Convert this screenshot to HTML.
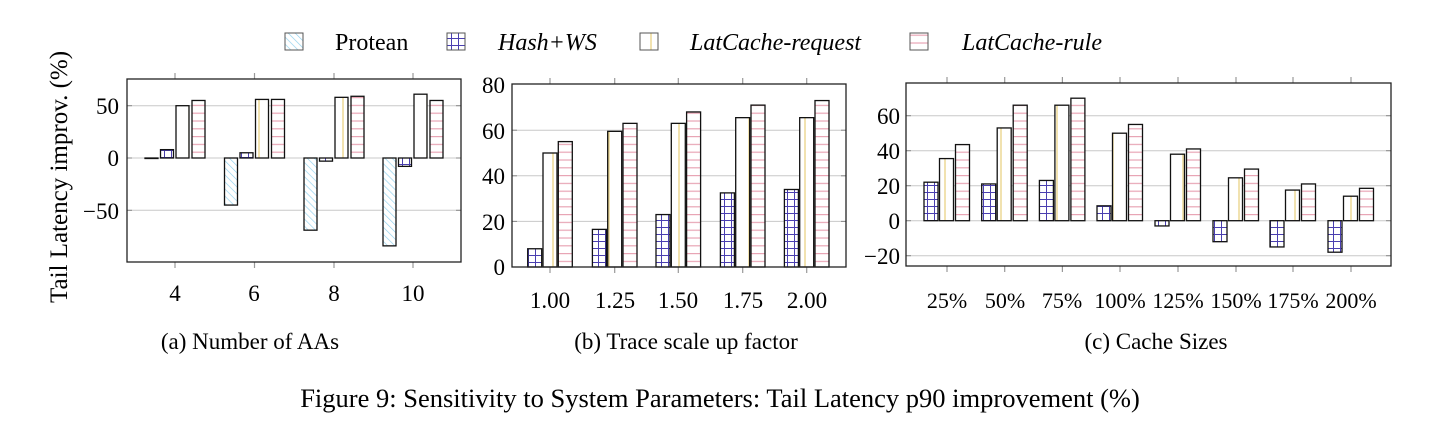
<!DOCTYPE html><html><head><meta charset="utf-8"><style>
body{margin:0;background:#fff;width:1433px;height:424px;overflow:hidden}
text{font-family:"Liberation Serif",serif;fill:#000}
</style></head><body>
<svg id="s" width="1433" height="424" xmlns="http://www.w3.org/2000/svg">
<defs>
<pattern id="pP" patternUnits="userSpaceOnUse" width="5" height="5" patternTransform="rotate(-45)"><rect width="5" height="5" fill="#fff"/><line x1="0" y1="0" x2="0" y2="5" stroke="#8fd0ee" stroke-width="1.3"/></pattern>
<pattern id="pH" patternUnits="userSpaceOnUse" width="7" height="7"><rect width="7" height="7" fill="#fff"/><line x1="3.5" y1="0" x2="3.5" y2="7" stroke="#4a3fb0" stroke-width="1"/><line x1="0" y1="3.5" x2="7" y2="3.5" stroke="#4a3fb0" stroke-width="1"/></pattern>
<pattern id="pL" patternUnits="userSpaceOnUse" width="14" height="7"><rect width="14" height="7" fill="#fff"/><line x1="7" y1="0" x2="7" y2="7" stroke="#e8cf7a" stroke-width="1.2"/></pattern>
<pattern id="pR" patternUnits="userSpaceOnUse" width="7" height="7.8"><rect width="7" height="7.8" fill="#fff"/><line x1="0" y1="4" x2="7" y2="4" stroke="#e8a4b4" stroke-width="1.2"/></pattern>
</defs>
<g id="g"></g>
<rect x="285" y="33" width="18" height="17" fill="url(#pP)" stroke="#555"/>
<text x="335" y="50" font-size="24">Protean</text>
<rect x="447" y="33" width="18" height="17" fill="url(#pH)" stroke="#555"/>
<text x="498" y="50" font-size="24" font-style="italic">Hash+WS</text>
<rect x="640" y="33" width="18" height="17" fill="url(#pL)" stroke="#555"/>
<text x="690" y="50" font-size="24" font-style="italic">LatCache-request</text>
<rect x="910" y="33" width="18" height="17" fill="url(#pR)" stroke="#555"/>
<text x="962" y="50" font-size="24" font-style="italic">LatCache-rule</text>
<text transform="translate(67,177) rotate(-90)" font-size="25" text-anchor="middle">Tail Latency improv. (%)</text>
<g font-size="23" text-anchor="end">
<text x="119" y="114">50</text><text x="119" y="166">0</text><text x="119" y="219">−50</text>
<g text-anchor="middle"><text x="175" y="301">4</text><text x="254" y="301">6</text><text x="334" y="301">8</text><text x="413" y="301">10</text></g>
<text x="505" y="93">80</text><text x="505" y="139">60</text><text x="505" y="184">40</text><text x="505" y="230">20</text><text x="505" y="275">0</text>
<g text-anchor="middle"><text x="550" y="308">1.00</text><text x="615" y="308">1.25</text><text x="678" y="308">1.50</text><text x="743" y="308">1.75</text><text x="807" y="308">2.00</text></g>
<text x="900" y="124">60</text><text x="900" y="159">40</text><text x="900" y="194">20</text><text x="900" y="229">0</text><text x="900" y="264">−20</text>
<g text-anchor="middle" font-size="22"><text x="947" y="308">25%</text><text x="1005" y="308">50%</text><text x="1062" y="308">75%</text><text x="1120" y="308">100%</text><text x="1178" y="308">125%</text><text x="1236" y="308">150%</text><text x="1293" y="308">175%</text><text x="1351" y="308">200%</text></g>
</g>
<g font-size="23" text-anchor="middle">
<text x="250" y="349">(a) Number of AAs</text>
<text x="686" y="349">(b) Trace scale up factor</text>
<text x="1156" y="349">(c) Cache Sizes</text>
<text x="720" y="407" font-size="26.5">Figure 9: Sensitivity to System Parameters: Tail Latency p90 improvement (%)</text>
</g>
</svg>
<script>
var g=document.getElementById('g'),NS='http://www.w3.org/2000/svg';
function el(t,a){var e=document.createElementNS(NS,t);for(var k in a)e.setAttribute(k,a[k]);g.appendChild(e);return e}
function panel(o){
 var L=o.L,R=o.R,T=o.T,B=o.B;
 o.grid.forEach(function(v){var y=o.z-v*o.k;el('line',{x1:L,x2:R,y1:y,y2:y,stroke:'#c8c8c8','stroke-width':1});
  el('line',{x1:L,x2:L+5,y1:y,y2:y,stroke:'#888'});el('line',{x1:R-5,x2:R,y1:y,y2:y,stroke:'#888'});});
 o.xs.forEach(function(x){el('line',{x1:x,x2:x,y1:B,y2:B+6,stroke:'#999','stroke-width':1.2});el('line',{x1:x,x2:x,y1:T-6,y2:T,stroke:'#999','stroke-width':1.2});});
 o.series.forEach(function(s,si){s.d.forEach(function(v,i){var cx=o.xs[i]+o.off[si],w=o.w;
  var y1=o.z-Math.max(v,0)*o.k,y2=o.z-Math.min(v,0)*o.k;
  el('rect',{x:cx-w/2,y:y1,width:w,height:Math.max(y2-y1,0.5),fill:'url(#'+s.p+')',stroke:'#111','stroke-width':1.3});});});
 el('rect',{x:L,y:T,width:R-L,height:B-T,fill:'none',stroke:'#222','stroke-width':1.3});
}
panel({L:127,R:461,T:79,B:262,z:158,k:1.046,grid:[50,0,-50],xs:[175,254.5,334,413],off:[-23.5,-8,7.5,23.5],w:13,
 series:[{p:'pP',d:[0,-45,-69,-84]},{p:'pH',d:[8,5,-3,-8]},{p:'pL',d:[50,56,58,61]},{p:'pR',d:[55,56,59,55]}]});
panel({L:512,R:846,T:84,B:267,z:267,k:2.28,grid:[60,40,20],xs:[550,614.7,678.3,742.7,806.7],off:[-15.3,0,15.3],w:14,
 series:[{p:'pH',d:[8,16.5,23,32.5,34]},{p:'pL',d:[50,59.5,63,65.5,65.5]},{p:'pR',d:[55,63,68,71,73]}]});
panel({L:906,R:1391,T:83,B:266,z:220.7,k:1.75,grid:[60,40,20,0,-20],xs:[947,1004.7,1062.4,1120,1178,1236,1293,1351],off:[-16,-0.5,15.5],w:14,
 series:[{p:'pH',d:[22,21,23,8.5,-3,-12,-15,-18]},{p:'pL',d:[35.5,53,66,50,38,24.5,17.5,14]},{p:'pR',d:[43.5,66,70,55,41,29.5,21,18.5]}]});
</script>
</body></html>
